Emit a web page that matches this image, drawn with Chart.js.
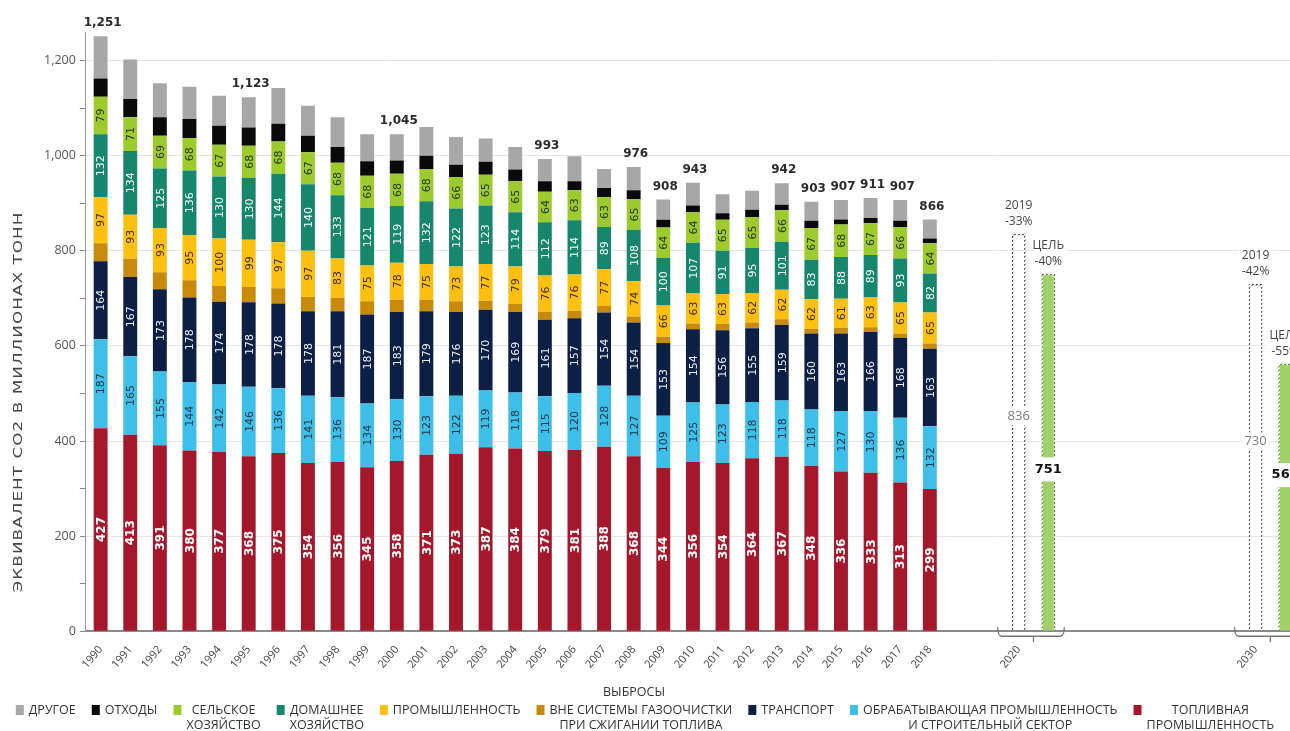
<!DOCTYPE html>
<html><head><meta charset="utf-8">
<script src="https://cdn.jsdelivr.net/npm/chart.js@4.4.1/dist/chart.umd.min.js"></script>
<style>
html,body{margin:0;padding:0;background:#fff;overflow:hidden;width:1290px;height:731px;}
#wrap{position:absolute;left:0;top:0;width:1310px;height:731px;}
</style></head><body>
<div id="wrap"><canvas id="c"></canvas></div>
<script>
// ---------- DATA ----------
const years = ['1990','1991','1992','1993','1994','1995','1996','1997','1998','1999','2000','2001','2002','2003','2004','2005','2006','2007','2008','2009','2010','2011','2012','2013','2014','2015','2016','2017','2018'];
const fuelIndustry    = [427,413,391,380,377,368,375,354,356,345,358,371,373,387,384,379,381,388,368,344,356,354,364,367,348,336,333,313,299];
const manufacturing   = [187,165,155,144,142,146,136,141,136,134,130,123,122,119,118,115,120,128,127,109,125,123,118,118,118,127,130,136,132];
const transport       = [164,167,173,178,174,178,178,178,181,187,183,179,176,170,169,161,157,154,154,153,154,156,155,159,160,163,166,168,163];
const outsideGasClean = [38,38,36,36,33,32,32,30,28,28,26,24,23,19,17,17,16,14,13,13,12,13,12,12,10,12,10,9,11];
const industry        = [97,93,93,95,100,99,97,97,83,75,78,75,73,77,79,76,76,77,74,66,63,63,62,62,62,61,63,65,65];
const domestic        = [132,134,125,136,130,130,144,140,133,121,119,132,122,123,114,112,114,89,108,100,107,91,95,101,83,88,89,93,82];
const agriculture     = [79,71,69,68,67,68,68,67,68,68,68,68,66,65,65,64,63,63,65,64,64,65,65,66,67,68,67,66,64];
const waste           = [38,38,39,40,40,38,37,35,33,30,28,28,26,27,25,22,19,19,18,16,14,14,15,12,15,11,11,13,10];
const other           = [89,83,71,68,63,64,75,63,63,57,55,60,58,49,47,47,53,40,49,43,48,40,40,45,40,41,42,44,40];
const totalLabels     = [1251,null,null,null,null,1123,null,null,null,null,1045,null,null,null,null,993,null,null,976,908,943,null,null,942,903,907,911,907,866];

const futureGroups   = ['2020','2030'];
const projection2019 = [836,730];
const projectionNote = [['2019','-33%'],['2019','-42%']];
const targets        = [751,563];
const targetNote     = [['ЦЕЛЬ','-40%'],['ЦЕЛЬ','-55%']];

const seriesNames = [
  ['ТОПЛИВНАЯ','ПРОМЫШЛЕННОСТЬ'],
  ['ОБРАБАТЫВАЮЩАЯ ПРОМЫШЛЕННОСТЬ','И СТРОИТЕЛЬНЫЙ СЕКТОР'],
  ['ТРАНСПОРТ'],
  ['ВНЕ СИСТЕМЫ ГАЗООЧИСТКИ','ПРИ СЖИГАНИИ ТОПЛИВА'],
  ['ПРОМЫШЛЕННОСТЬ'],
  ['ДОМАШНЕЕ','ХОЗЯЙСТВО'],
  ['СЕЛЬСКОЕ','ХОЗЯЙСТВО'],
  ['ОТХОДЫ'],
  ['ДРУГОЕ']
];
const xAxisTitle = 'ВЫБРОСЫ';
const yAxisTitle = 'ЭКВИВАЛЕНТ CO2 В МИЛЛИОНАХ ТОНН';
const seriesValues = [fuelIndustry, manufacturing, transport, outsideGasClean, industry, domestic, agriculture, waste, other];

// ---------- STYLES ----------
const seriesColors = ['#a5182c','#3dbfe9','#0c1f44','#c98a0c','#fdc010','#16876c','#9ccb2e','#0a0a0a','#a7a7a7'];
const labelColors  = ['#ffffff','#26384a','#eef2f7',null,'#3b2d05','#ffffff','#2a3510',null,null];
const labelFonts   = ['bold 12px "DejaVu Sans"','11px "DejaVu Sans"','11px "DejaVu Sans"',null,'11px "DejaVu Sans"','11px "DejaVu Sans"','11px "DejaVu Sans"',null,null];

const tickLabels = years.concat(['', '', futureGroups[0], '', '', '', '', '', '', '', futureGroups[1], '']);
const N = tickLabels.length;
const pad = arr => arr.concat(new Array(N - arr.length).fill(null));
const futureIdx = futureGroups.map(g => tickLabels.indexOf(g));
const projData = new Array(N).fill(null);
const targetData = new Array(N).fill(null);
futureIdx.forEach((k, j) => { projData[k] = projection2019[j]; targetData[k + 1] = targets[j]; });

function dotPattern(color) {
  const c = document.createElement('canvas'); c.width = 4; c.height = 4;
  const x = c.getContext('2d'); x.fillStyle = color;
  for (let i = 0; i < 4; i++) for (let j = 0; j < 4; j++) if ((i + j) % 4 < 2) x.fillRect(i, j, 1, 1);
  return x.createPattern(c, 'repeat');
}

const datasets = seriesValues.map((vals, i) => ({
  label: seriesNames[i].join(' '),
  data: pad(vals),
  backgroundColor: seriesColors[i],
  borderWidth: 0
}));
datasets.push({ label: '2019', data: projData, backgroundColor: 'rgba(255,255,255,0)', borderColor: dotPattern('#555'), borderWidth: 1.5 });
datasets.push({ label: 'ЦЕЛЬ', data: targetData, backgroundColor: '#a2d16c', borderColor: dotPattern('#5d8c35'), borderWidth: 1.5 });
const PROJ = 9, TARGET = 10;

const annot = {
  id: 'annot',
  afterDatasetsDraw(chart) {
    const ctx = chart.ctx;
    for (let d = 0; d < seriesValues.length; d++) {
      if (!labelColors[d]) continue;
      const meta = chart.getDatasetMeta(d);
      meta.data.forEach((el, i) => {
        const v = seriesValues[d][i];
        if (v == null) return;
        const p = el.getProps(['x', 'y', 'base'], true);
        ctx.save();
        ctx.translate(p.x, (p.y + p.base) / 2);
        ctx.rotate(-Math.PI / 2);
        ctx.font = labelFonts[d]; ctx.fillStyle = labelColors[d];
        ctx.textAlign = 'center'; ctx.textBaseline = 'middle';
        ctx.fillText(String(v), 0, 1);
        ctx.restore();
      });
    }
    const topMeta = chart.getDatasetMeta(seriesValues.length - 1);
    ctx.save();
    ctx.font = 'bold 12px "DejaVu Sans"'; ctx.fillStyle = '#2b2b2b';
    ctx.textAlign = 'center'; ctx.textBaseline = 'bottom';
    totalLabels.forEach((t, i) => {
      if (t == null) return;
      const el = topMeta.data[i];
      ctx.fillText(t.toLocaleString('en-US'), el.x + 2, el.y - 7);
    });
    ctx.restore();
    const pm = chart.getDatasetMeta(PROJ), tm = chart.getDatasetMeta(TARGET);
    futureIdx.forEach((k, j) => {
      const pe = pm.data[k], te = tm.data[k + 1];
      const notes = [[pe, projectionNote[j]], [te, targetNote[j]]];
      ctx.save();
      ctx.font = '12px "Open Sans"'; ctx.textAlign = 'center'; ctx.textBaseline = 'middle';
      notes.forEach(([el, lines]) => {
        const w = Math.max(ctx.measureText(lines[0]).width, ctx.measureText(lines[1]).width) + 6;
        ctx.fillStyle = '#fff';
        ctx.fillRect(el.x - w / 2, el.y - 37, w, 34);
        ctx.fillStyle = '#444';
        ctx.fillText(lines[0], el.x, el.y - 28);
        ctx.fillText(lines[1], el.x, el.y - 12);
      });
      const pc = (pe.y + pe.base) / 2 - 16;
      ctx.font = '13px "Open Sans"';
      let w = ctx.measureText(String(projection2019[j])).width + 4;
      ctx.fillStyle = '#fff'; ctx.fillRect(pe.x - w / 2, pc - 9, w, 18);
      ctx.fillStyle = '#7a7a7a'; ctx.fillText(String(projection2019[j]), pe.x, pc);
      const tc = (te.y + te.base) / 2 + (j === 0 ? 17 : -22);
      ctx.font = 'bold 13px "DejaVu Sans"';
      w = ctx.measureText(String(targets[j])).width + 6;
      ctx.fillStyle = '#fff'; ctx.fillRect(te.x - w / 2, tc - 12, w, 24);
      ctx.fillStyle = '#111'; ctx.fillText(String(targets[j]), te.x, tc);
      ctx.restore();
      const yb = chart.scales.y.bottom;
      const xl = pe.x - 21, xr = te.x + 16, xm = (pe.x + te.x) / 2;
      ctx.save();
      ctx.strokeStyle = '#777'; ctx.lineWidth = 1.3;
      ctx.beginPath();
      ctx.moveTo(xl, yb - 4);
      ctx.quadraticCurveTo(xl, yb + 5, xl + 4, yb + 5);
      ctx.lineTo(xr - 4, yb + 5);
      ctx.quadraticCurveTo(xr, yb + 5, xr, yb - 4);
      ctx.moveTo(xm, yb + 5); ctx.lineTo(xm, yb + 11);
      ctx.stroke();
      ctx.restore();
    });
  },
  afterDraw(chart) {
    const ctx = chart.ctx;
    // y axis title, stretched to the width of the original wide typeface
    ctx.save();
    ctx.font = '13px "DejaVu Sans"'; ctx.fillStyle = '#444';
    ctx.letterSpacing = '0.8px';
    const w0 = ctx.measureText(yAxisTitle).width;
    ctx.translate(19, 402); ctx.rotate(-Math.PI / 2);
    ctx.scale(381 / w0, 1);
    ctx.textAlign = 'center'; ctx.textBaseline = 'middle';
    ctx.fillText(yAxisTitle, 0, 0);
    ctx.restore();
    // legend (custom, single row, multi-line centred labels)
    ctx.save();
    ctx.font = '12.5px "Open Sans"'; ctx.textBaseline = 'middle'; ctx.textAlign = 'center';
    const boxW = 8, boxGap = 5, itemGap = 16;
    const order = seriesNames.map((_, i) => i).reverse();
    const widths = order.map(i => Math.max(...seriesNames[i].map(s => ctx.measureText(s).width)));
    const total = widths.reduce((a, b) => a + b, 0) + order.length * (boxW + boxGap) + (order.length - 1) * itemGap;
    const cx = 645;
    let x = cx - total / 2;
    const y1 = 710, y2 = 725;
    ctx.fillStyle = '#333';
    ctx.fillText(xAxisTitle, cx - 11, 692);
    order.forEach((i, n) => {
      ctx.fillStyle = seriesColors[i];
      ctx.fillRect(x, y1 - 5, boxW, 10);
      const tx = x + boxW + boxGap + widths[n] / 2;
      ctx.fillStyle = '#333';
      seriesNames[i].forEach((s, li) => ctx.fillText(s, tx, li === 0 ? y1 : y2));
      x += boxW + boxGap + widths[n] + itemGap;
    });
    ctx.restore();
  }
};

new Chart(document.getElementById('c'), {
  type: 'bar',
  data: { labels: tickLabels, datasets },
  plugins: [annot],
  options: {
    responsive: true, maintainAspectRatio: false, animation: false,
    layout: { padding: { left: 40, right: 10, top: 32, bottom: 56 } },
    datasets: { bar: { categoryPercentage: 1, barPercentage: 0.47 } },
    scales: {
      x: {
        stacked: true,
        grid: { display: false },
        border: { display: true, color: '#8a8a8a', width: 2 },
        ticks: { autoSkip: false, minRotation: 50, maxRotation: 50, padding: 4, color: '#444', font: { family: 'Open Sans', size: 11 } }
      },
      y: {
        stacked: true, min: 0, max: 1260,
        afterBuildTicks: s => { s.ticks = s.ticks.filter(t => t.value % 100 === 0); },
        ticks: { stepSize: 100, padding: 4, color: '#555', font: { family: 'Open Sans', size: 12.5 },
                 callback: v => (v % 200 === 0 ? v.toLocaleString('en-US') : '') },
        grid: { color: c => (c.tick && c.tick.value % 200 === 0 && c.tick.value > 0 ? '#e5e5e5' : 'rgba(0,0,0,0)'), tickColor: '#888', tickLength: 6 },
        border: { display: true, color: '#999', width: 1 }
      }
    },
    plugins: { tooltip: { enabled: false }, legend: { display: false } }
  }
});
</script>
</body></html>
